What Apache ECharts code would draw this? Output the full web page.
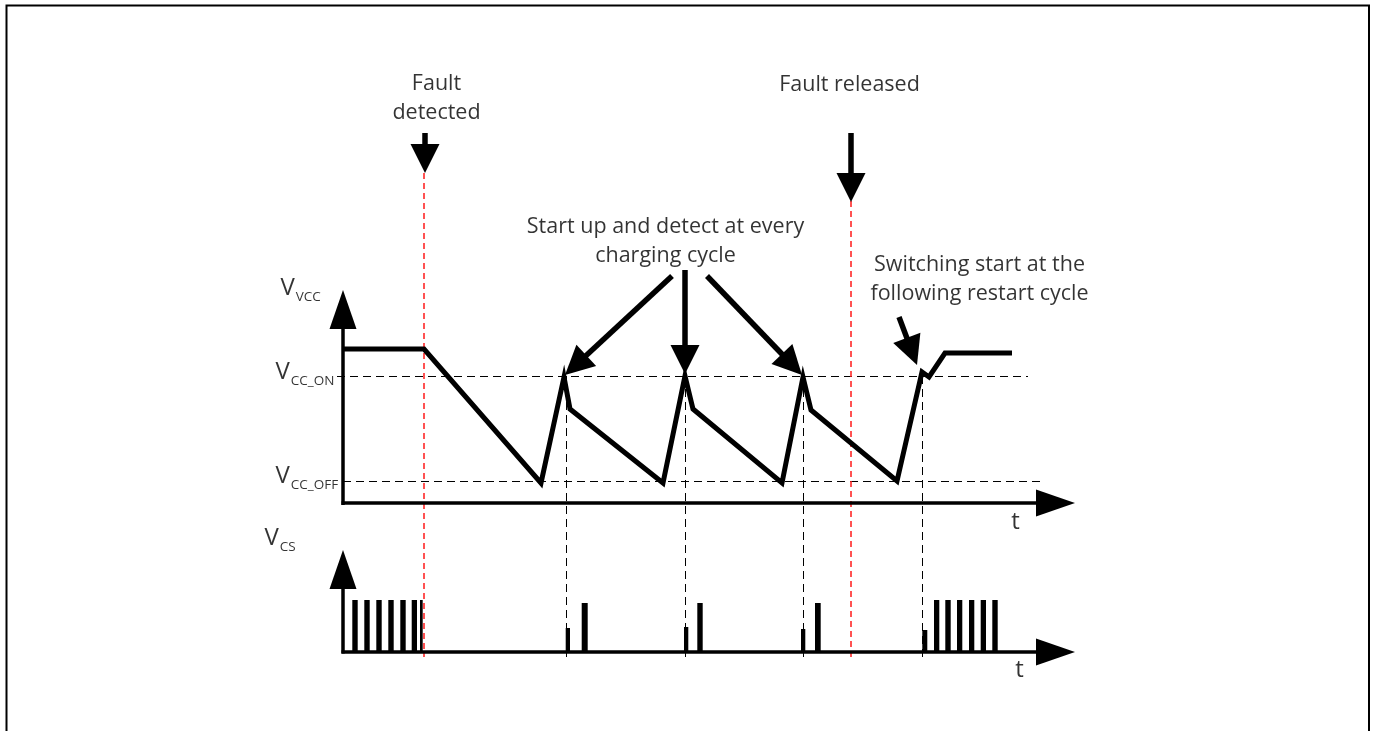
<!DOCTYPE html>
<html>
<head>
<meta charset="utf-8">
<script src="https://cdn.jsdelivr.net/npm/echarts@6/dist/echarts.min.js"></script>
<style>
  html, body { margin: 0; padding: 0; background: #fff; }
  #chart { width: 1375px; height: 731px; }
</style>
</head>
<body>
<div id="chart"></div>
<script>
// diagram frame: x = time (px-like units), y = level (down is positive)
const vccWave = [[343,349],[424,349],[541,483],[564,377],[570,409],[663,483],[685,376],[693,409],
  [782,483],[803,377],[811,410],[897,481],[922,372],[929,377],[945,353],[1012,353]];
const levelLines = [[[337,376.5],[1028,376.5]], [[343,481.5],[1040,481.5]]]; // VCC_ON, VCC_OFF
const syncTimes = [566.5, 685.5, 803.5, 922.5];
const syncSpan = [376, 660];
const faultTimes = [423.5, 850.5];
const faultTops = [173, 201];
const faultBottom = 657;
const csBase = 652;
// [start, end, top]
const csPulses = [
  [352.3,357.7,600],[364.3,369.7,600],[376.3,381.7,600],[388.3,393.7,600],[400.3,405.7,600],[411.7,417,600],[420,422.7,600],
  [565.7,570,628],[581.7,587.7,603],
  [684,688.3,627],[697.3,702.7,603],
  [801,805.3,629],[815,820.7,603],
  [922.3,927.3,630],[934,939.3,600],[945.3,950.7,600],[957,962.3,600],[969,974.3,600],[980.7,986,600],[992.3,997.7,600]
];
// [x1, y1, x2(tip), y2(tip)]
const axisArrows = [[343,505,343,290],[341.5,503,1075,503],[343,653.5,343,550],[341.5,652,1075,652]];
const noteArrows = [[425,133,425,173],[851,133,851,202],[672,276,565,375],[685,270,685,374],[707,276,802,375],[899,317,917,365]];
const noteTexts = ['Fault\ndetected', 'Fault released', 'Start up and detect at every\ncharging cycle', 'Switching start at the\nfollowing restart cycle'];
const noteAnchors = [[437,99],[850,85],[666,242],[980,280]];
const signalNames = ['{v|V}{s|VCC}', '{v|V}{s|CC_ON}', '{v|V}{s|CC_OFF}', '{v|V}{s|CS}'];
const signalAnchors = [[281,292.5],[276,376.5],[276,480.5],[265,542.5]];
const timeAnchors = [[1016,523],[1020,671]];

const chart = echarts.init(document.getElementById('chart'));

const arrowRenderer = (headLen, headWidth, shaftWidth) => (params, api) => {
  const p1 = api.coord([api.value(0), api.value(1)]);
  const p2 = api.coord([api.value(2), api.value(3)]);
  const dx = p2[0] - p1[0], dy = p2[1] - p1[1];
  const len = Math.hypot(dx, dy);
  const ux = dx / len, uy = dy / len;
  const bx = p2[0] - ux * headLen, by = p2[1] - uy * headLen;
  const nx = -uy * headWidth / 2, ny = ux * headWidth / 2;
  return {
    type: 'group',
    children: [
      { type: 'line', shape: { x1: p1[0], y1: p1[1], x2: bx + ux * 2, y2: by + uy * 2 },
        style: { stroke: '#000', lineWidth: shaftWidth } },
      { type: 'polygon', shape: { points: [[p2[0], p2[1]], [bx + nx, by + ny], [bx - nx, by - ny]] },
        style: { fill: '#000' } }
    ]
  };
};

const font = 'Open Sans';
const textSeries = (items, label) => ({
  type: 'scatter',
  symbolSize: 1,
  itemStyle: { color: 'rgba(0,0,0,0)' },
  silent: true,
  data: items,
  label: Object.assign({ show: true, position: [0, 0], color: '#000', fontFamily: font,
    formatter: p => p.data.name }, label)
});

const option = {
  animation: false,
  grid: { left: 0, right: 0, top: 0, bottom: 0 },
  xAxis: { type: 'value', min: 0, max: 1375, show: false },
  yAxis: { type: 'value', min: 0, max: 731, inverse: true, show: false },
  graphic: [{
    type: 'rect', silent: true,
    shape: { x: 6.5, y: 5.5, width: 1362.5, height: 900 },
    style: { fill: null, stroke: '#000', lineWidth: 2 }
  }],
  series: [
    {
      type: 'lines', coordinateSystem: 'cartesian2d', silent: true,
      data: levelLines.map(c => ({ coords: c })),
      lineStyle: { color: '#000', width: 1, type: [8, 5], opacity: 1 }
    },
    {
      type: 'lines', coordinateSystem: 'cartesian2d', silent: true,
      data: syncTimes.map(t => ({ coords: [[t, syncSpan[0]], [t, syncSpan[1]]] })),
      lineStyle: { color: '#000', width: 1, type: [8, 5], opacity: 1 }
    },
    {
      type: 'lines', coordinateSystem: 'cartesian2d', silent: true,
      data: faultTimes.map((t, i) => ({ coords: [[t, faultTops[i]], [t, faultBottom]] })),
      lineStyle: { color: '#ff1a1a', width: 1.5, type: [6, 4], opacity: 1 }
    },
    {
      type: 'custom', silent: true,
      encode: { x: [0, 1], y: 2 },
      data: csPulses,
      renderItem: (params, api) => {
        const a = api.coord([api.value(0), api.value(2)]);
        const b = api.coord([api.value(1), csBase]);
        return { type: 'rect', shape: { x: a[0], y: a[1], width: b[0] - a[0], height: b[1] - a[1] },
          style: { fill: '#000' } };
      }
    },
    {
      type: 'line', silent: true, symbol: 'none',
      data: vccWave,
      lineStyle: { color: '#000', width: 5, join: 'miter', miterLimit: 10 }
    },
    {
      type: 'custom', silent: true,
      encode: { x: [0, 2], y: [1, 3] },
      data: axisArrows,
      renderItem: arrowRenderer(39, 27, 3.5)
    },
    {
      type: 'custom', silent: true,
      encode: { x: [0, 2], y: [1, 3] },
      data: noteArrows,
      renderItem: arrowRenderer(29, 29, 5.5)
    },
    textSeries(noteTexts.map((t, i) => ({ name: t, value: noteAnchors[i] })),
      { align: 'center', verticalAlign: 'middle', fontSize: 21.5, lineHeight: 29 }),
    textSeries(timeAnchors.map(a => ({ name: 't', value: a })),
      { align: 'center', verticalAlign: 'middle', fontSize: 24 }),
    textSeries(signalNames.map((t, i) => ({ name: t, value: signalAnchors[i] })),
      { align: 'left', verticalAlign: 'middle',
        rich: {
          v: { fontFamily: font, fontSize: 24, lineHeight: 24, padding: [0, 1, 4, 0], verticalAlign: 'bottom', color: '#000' },
          s: { fontFamily: font, fontSize: 13.5, lineHeight: 14, verticalAlign: 'bottom', color: '#000' }
        } })
  ]
};
chart.setOption(option);
window.addEventListener('resize', () => chart.resize());
</script>
</body>
</html>
